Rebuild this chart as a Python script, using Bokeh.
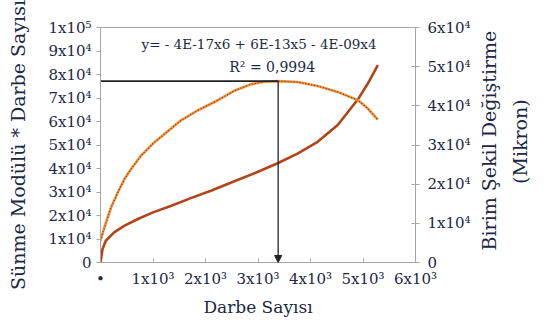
import math
from bokeh.plotting import figure
from bokeh.models import (LinearAxis, Range1d, FixedTicker, Label, Arrow,
                          NormalHead, ColumnDataSource)
from bokeh.embed import file_html
from bokeh.resources import INLINE

# ---- data ----
# Sünme Modülü * Darbe Sayısı (left axis)
modul_x = [0, 76, 203, 331, 459, 586, 777, 1000, 1224, 1541, 1860, 2180, 2562,
           2861, 3117, 3384, 3753, 4136, 4518, 4901, 5092, 5283]
modul_y = [9300, 15000, 23500, 29900, 35600, 39900, 45600, 50600, 54800, 60600,
           64800, 68400, 73200, 75800, 76900, 77200, 76800, 75100, 72600, 69100,
           65500, 60800]

# Birim Şekil Değiştirme (Mikron) (right axis)
def_x = [0, 38, 101, 260, 459, 713, 1000, 1350, 1732, 2115, 2562, 2989, 3384,
         3753, 4136, 4518, 4901, 5092, 5283]
def_y = [0, 3400, 5560, 7700, 9400, 11100, 12800, 14500, 16500, 18400, 20800,
         23100, 25400, 27800, 30800, 35100, 41600, 45700, 50400]

# optimum point marked on the chart
peak_x = 3384
peak_y = 77200

x_ticks = [0, 1000, 2000, 3000, 4000, 5000, 6000]
x_labels = ["•", "1x10³", "2x10³", "3x10³", "4x10³", "5x10³", "6x10³"]
left_ticks = [0, 10000, 20000, 30000, 40000, 50000, 60000, 70000, 80000, 90000, 100000]
left_labels = ["0", "1x10⁴", "2x10⁴", "3x10⁴", "4x10⁴", "5x10⁴", "6x10⁴",
               "7x10⁴", "8x10⁴", "9x10⁴", "1x10⁵"]
right_ticks = [0, 10000, 20000, 30000, 40000, 50000, 60000]
right_labels = ["0", "1x10⁴", "2x10⁴", "3x10⁴", "4x10⁴", "5x10⁴", "6x10⁴"]

equation = "y= - 4E-17x6 + 6E-13x5 - 4E-09x4"
r2_text = "R² = 0,9994"
x_title = "Darbe Sayısı"
left_title = "Sünme Modülü * Darbe Sayısı"
right_title_1 = "Birim Şekil Değiştirme"
right_title_2 = "(Mikron)"

# ---- styling ----
FONT = "DejaVu Serif"
TXT = "#1c2846"
AXC = "#a6a6a6"
NBSP = "\u00a0"

p = figure(width=546, height=322, x_range=Range1d(0, 6000), y_range=Range1d(0, 100000),
           output_backend="svg", toolbar_location=None,
           min_border_left=100, min_border_right=131, min_border_top=27,
           min_border_bottom=60)
p.extra_y_ranges = {"def": Range1d(0, 60000)}
p.xgrid.visible = False
p.ygrid.visible = False
p.outline_line_color = AXC
p.background_fill_color = "white"
p.border_fill_color = "white"


def style_axis(ax, ticks, labels, size="15px"):
    ax.ticker = FixedTicker(ticks=ticks)
    ax.major_label_overrides = {t: l for t, l in zip(ticks, labels)}
    ax.major_label_text_font = FONT
    ax.major_label_text_font_size = size
    ax.major_label_text_color = TXT
    ax.axis_line_color = AXC
    ax.major_tick_line_color = AXC
    ax.minor_tick_line_color = None
    ax.axis_label_text_font = FONT
    ax.axis_label_text_font_style = "normal"
    ax.axis_label_text_color = TXT


xa = p.xaxis[0]
style_axis(xa, x_ticks, x_labels)
xa.major_tick_in = 4
xa.major_tick_out = 0
xa.major_label_standoff = 7
xa.axis_label = x_title
xa.axis_label_text_font_size = "17px"
xa.axis_label_standoff = 6

ya = p.yaxis[0]
style_axis(ya, left_ticks, left_labels)
ya.major_tick_in = 0
ya.major_tick_out = 4
ya.major_label_standoff = 5
ya.axis_label = left_title
ya.axis_label_text_font_size = "19px"
ya.axis_label_standoff = 16

ra = LinearAxis(y_range_name="def")
style_axis(ra, right_ticks, right_labels)
ra.major_tick_in = 4
ra.major_tick_out = 4
ra.major_label_standoff = 8
ra.axis_label = NBSP * 2 + right_title_1
ra.axis_label_text_font_size = "19px"
ra.axis_label_standoff = 15
p.add_layout(ra, "right")

ra2 = LinearAxis(y_range_name="def")
ra2.ticker = FixedTicker(ticks=[])
ra2.axis_line_color = None
ra2.major_tick_line_color = None
ra2.minor_tick_line_color = None
ra2.major_label_text_font_size = "0px"
ra2.axis_label = NBSP * 13 + right_title_2
ra2.axis_label_text_font = FONT
ra2.axis_label_text_font_style = "normal"
ra2.axis_label_text_color = TXT
ra2.axis_label_text_font_size = "19px"
ra2.axis_label_standoff = 6
p.add_layout(ra2, "right")

# right-hand titles read bottom to top, starting near the bottom of the axis
for a in (ra, ra2):
    a.axis_label_orientation = math.pi / 2
    a.axis_label_align = "start"

# curves
p.line(def_x, def_y, y_range_name="def", line_color="#b0451a", line_width=2.6)
p.line(modul_x, modul_y, line_color="#f0913a", line_width=2.6)
p.line(modul_x, modul_y, line_color="#7a2e0e", line_width=1.1, line_dash="1 2")

# marker lines
seg = ColumnDataSource(dict(x0=[0], y0=[peak_y], x1=[peak_x], y1=[peak_y]))
p.segment("x0", "y0", "x1", "y1", source=seg, line_color="#222222", line_width=1.6)
p.add_layout(Arrow(x_start=peak_x, y_start=peak_y, x_end=peak_x, y_end=0,
                   line_color="#222222", line_width=1.3,
                   end=NormalHead(size=7, fill_color="#222222", line_color="#222222")))

p.add_layout(Label(x=3020, y=93000, text=equation, text_font=FONT,
                   text_font_size="13.5px", text_color=TXT, text_align="center",
                   text_baseline="middle"))
p.add_layout(Label(x=3270, y=83300, text=r2_text, text_font=FONT,
                   text_font_size="14px", text_color=TXT, text_align="center",
                   text_baseline="middle"))

open("out.html", "w").write(file_html(p, INLINE))
